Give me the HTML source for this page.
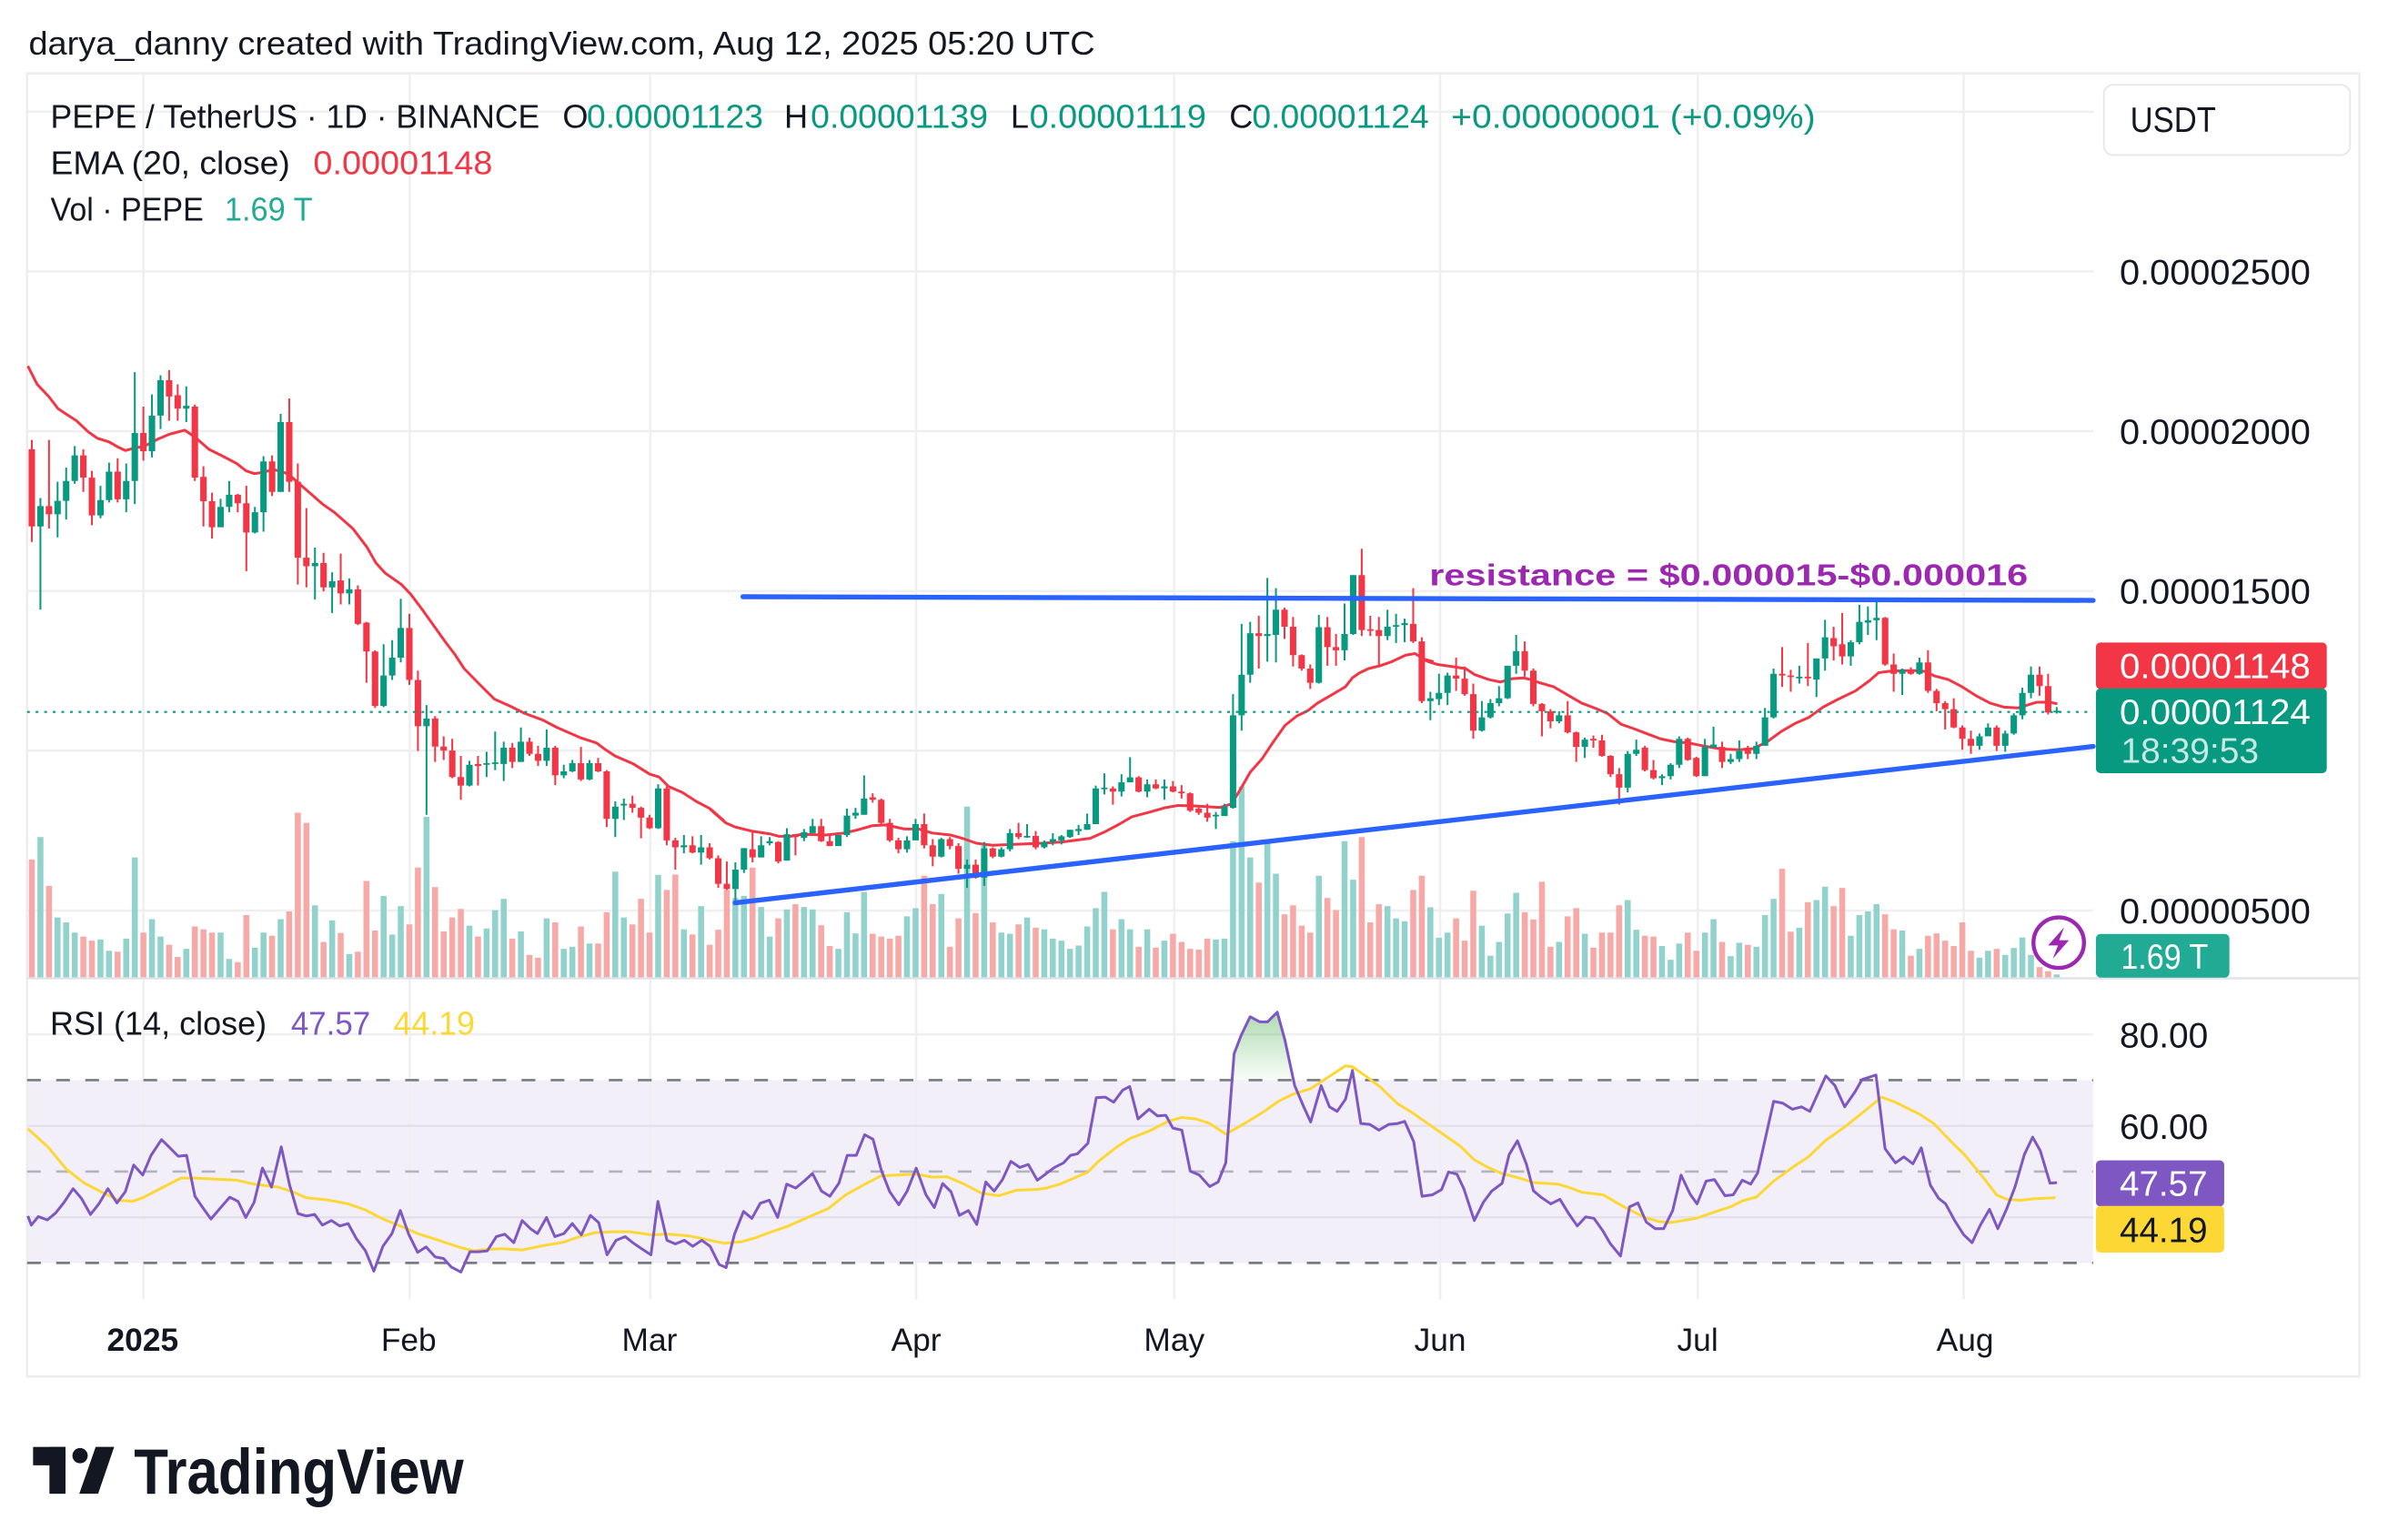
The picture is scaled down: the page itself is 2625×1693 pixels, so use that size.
<!DOCTYPE html>
<html><head><meta charset="utf-8">
<style>
html,body{margin:0;padding:0;background:#fff;overflow:hidden;}
svg{display:block;}
text{font-family:"Liberation Sans",sans-serif;}
</style></head>
<body>
<svg xmlns="http://www.w3.org/2000/svg" width="2625" height="1693" viewBox="0 0 1560 1006" preserveAspectRatio="none">
<defs>
<linearGradient id="ob" x1="0" y1="0" x2="0" y2="1">
<stop offset="0" stop-color="#4CAF50" stop-opacity="0.45"/>
<stop offset="1" stop-color="#4CAF50" stop-opacity="0.04"/>
</linearGradient>
</defs>
<rect width="1560" height="1006" fill="#fff"/>
<text x="18.7" y="35.7" font-size="21.5" fill="#131722" textLength="696.6" lengthAdjust="spacingAndGlyphs">darya_danny created with TradingView.com, Aug 12, 2025 05:20 UTC</text>

<rect x="17.7" y="705.6" width="1349.7" height="119.4" fill="#F2EFF9"/>
<g stroke="#EFEFEF" stroke-width="1.5">
<line x1="17.7" x2="1367.4" y1="73" y2="73"/>
<line x1="17.7" x2="1367.4" y1="177.3" y2="177.3"/>
<line x1="17.7" x2="1367.4" y1="281.7" y2="281.7"/>
<line x1="17.7" x2="1367.4" y1="386.1" y2="386.1"/>
<line x1="17.7" x2="1367.4" y1="490.4" y2="490.4"/>
<line x1="17.7" x2="1367.4" y1="594.8" y2="594.8"/>
<line x1="17.7" x2="1367.4" y1="675.7" y2="675.7"/>
<line x1="93.7" x2="93.7" y1="47.9" y2="848.8"/>
<line x1="267.7" x2="267.7" y1="47.9" y2="848.8"/>
<line x1="424.8" x2="424.8" y1="47.9" y2="848.8"/>
<line x1="598.5" x2="598.5" y1="47.9" y2="848.8"/>
<line x1="767.1" x2="767.1" y1="47.9" y2="848.8"/>
<line x1="940.8" x2="940.8" y1="47.9" y2="848.8"/>
<line x1="1109.1" x2="1109.1" y1="47.9" y2="848.8"/>
<line x1="1282.8" x2="1282.8" y1="47.9" y2="848.8"/>
</g>
<g stroke="#E4E0EC" stroke-width="1.5">
<line x1="17.7" x2="1367.4" y1="735.5" y2="735.5"/>
<line x1="17.7" x2="1367.4" y1="795.2" y2="795.2"/>
</g>
<rect x="17.7" y="47.9" width="1523.6" height="851.3" fill="none" stroke="#EDEDED" stroke-width="1.5"/>
<line x1="17.7" x2="1541.3" y1="639.1" y2="639.1" stroke="#E0E3EB" stroke-width="1.5"/>
<line x1="17.7" x2="1367.4" y1="705.6" y2="705.6" stroke="#787B86" stroke-width="1.6" stroke-dasharray="9 10"/>
<line x1="17.7" x2="1367.4" y1="765.3" y2="765.3" stroke="#B2B5BE" stroke-width="1.6" stroke-dasharray="9 10"/>
<line x1="17.7" x2="1367.4" y1="825" y2="825" stroke="#787B86" stroke-width="1.6" stroke-dasharray="9 10"/>

<!-- volume + candles (x = day index, y = reference zoom units) -->
<g transform="matrix(5.605 0 0 0.2653 20.8 225.83)" fill="none">
<path stroke="#92D2CC" stroke-width="0.696" d="M1 1210V1555M3 1408V1555M4 1420V1555M5 1445V1555M8 1462V1555M9 1490V1555M11 1460V1555M12 1260V1555M14 1412V1555M15 1455V1555M18 1485V1555M22 1445V1555M23 1510V1555M26 1482V1555M27 1445V1555M29 1412V1555M33 1378V1555M35 1415V1555M37 1498V1555M41 1355V1555M42 1450V1555M43 1380V1555M46 1160V1555M51 1428V1555M53 1435V1555M54 1390V1555M55 1362V1555M57 1442V1555M60 1410V1555M62 1485V1555M63 1480V1555M65 1472V1555M68 1295V1555M69 1408V1555M73 1303V1555M76 1437V1555M78 1380V1555M82 1360V1555M83 1355V1555M85 1382V1555M86 1455V1555M88 1388V1555M90 1382V1555M91 1388V1555M94 1485V1555M95 1395V1555M96 1447V1555M97 1345V1555M102 1405V1555M103 1385V1555M106 1350V1555M109 1135V1555M111 1230V1555M113 1445V1555M114 1448V1555M116 1408V1555M118 1437V1555M119 1460V1555M120 1465V1555M121 1485V1555M122 1477V1555M123 1430V1555M124 1385V1555M125 1345V1555M127 1412V1555M128 1437V1555M130 1437V1555M132 1465V1555M138 1462V1555M139 1460V1555M140 1220V1555M141 1085V1555M142 1260V1555M144 1225V1555M145 1300V1555M150 1305V1555M153 1220V1555M154 1315V1555M158 1380V1555M159 1410V1555M160 1417V1555M163 1383V1555M164 1458V1555M165 1445V1555M169 1428V1555M170 1502V1555M171 1468V1555M172 1398V1555M173 1347V1555M178 1468V1555M181 1448V1555M186 1365V1555M187 1438V1555M190 1478V1555M191 1512V1555M192 1472V1555M195 1445V1555M196 1412V1555M198 1503V1555M199 1470V1555M201 1480V1555M202 1402V1555M203 1362V1555M206 1433V1555M208 1365V1555M209 1332V1555M212 1453V1555M213 1402V1555M214 1393V1555M215 1375V1555M218 1440V1555M220 1485V1555M227 1507V1555M228 1490V1555M230 1500V1555M231 1483V1555M232 1457V1555M233 1500V1555M236 1548V1555"/>
<path stroke="#F7A9A7" stroke-width="0.696" d="M0 1265V1555M2 1330V1555M6 1455V1555M7 1465V1555M10 1492V1555M13 1445V1555M16 1475V1555M17 1505V1555M19 1430V1555M20 1437V1555M21 1445V1555M24 1518V1555M25 1402V1555M28 1453V1555M30 1393V1555M31 1150V1555M32 1175V1555M34 1468V1555M36 1446V1555M38 1492V1555M39 1318V1555M40 1440V1555M44 1425V1555M45 1285V1555M47 1333V1555M48 1442V1555M49 1408V1555M50 1387V1555M52 1455V1555M56 1460V1555M58 1500V1555M59 1507V1555M61 1420V1555M64 1430V1555M66 1472V1555M67 1395V1555M70 1425V1555M71 1362V1555M72 1445V1555M74 1340V1555M75 1302V1555M77 1450V1555M79 1475V1555M80 1438V1555M81 1340V1555M84 1285V1555M87 1410V1555M89 1375V1555M92 1427V1555M93 1478V1555M98 1448V1555M99 1455V1555M100 1460V1555M101 1453V1555M104 1305V1555M105 1375V1555M107 1480V1555M108 1410V1555M110 1397V1555M112 1420V1555M115 1425V1555M117 1433V1555M126 1437V1555M129 1480V1555M131 1482V1555M133 1448V1555M134 1468V1555M135 1485V1555M136 1487V1555M137 1460V1555M143 1322V1555M146 1400V1555M147 1378V1555M148 1428V1555M149 1445V1555M151 1360V1555M152 1390V1555M155 1210V1555M156 1420V1555M157 1375V1555M161 1340V1555M162 1305V1555M166 1410V1555M167 1465V1555M168 1342V1555M174 1395V1555M175 1413V1555M176 1320V1555M177 1480V1555M179 1405V1555M180 1385V1555M182 1482V1555M183 1445V1555M184 1445V1555M185 1378V1555M188 1453V1555M189 1455V1555M193 1445V1555M194 1490V1555M197 1468V1555M200 1475V1555M204 1288V1555M205 1443V1555M207 1370V1555M210 1380V1555M211 1335V1555M216 1400V1555M217 1437V1555M219 1502V1555M221 1453V1555M222 1447V1555M223 1465V1555M224 1478V1555M225 1420V1555M226 1490V1555M229 1485V1555M234 1530V1555M235 1540V1555"/>
</g>

<!-- EMA -->
<g fill="none" stroke="#F23645" stroke-width="3" stroke-linejoin="round" vector-effect="non-scaling-stroke">
<polyline vector-effect="non-scaling-stroke" transform="matrix(0.3032 0 0 0.2653 0 225.83)" points="60,50 80,95 105,125 125,155 145,170 165,185 190,212 210,228 235,237 255,250 270,258 290,252 310,248 340,230 365,218 398,208 420,225 450,255 480,272 510,290 530,308 548,315 565,312 590,305 620,315 640,335 670,365 695,390 720,410 740,430 760,450 790,495 810,535 830,560 865,588 885,612 910,650 935,690 960,730 980,760 1000,795 1030,830 1065,870 1100,888 1130,905 1170,922 1200,940 1250,965 1285,978 1305,995 1325,1010 1365,1030 1400,1055 1420,1062 1440,1085 1470,1100 1500,1122 1530,1140 1560,1170"/>
<polyline vector-effect="non-scaling-stroke" transform="matrix(0.3032 0 0 0.2653 463.5 225.83)" points="0,1140 20,1160 35,1175 55,1185 90,1195 130,1202 150,1208 175,1208 200,1203 250,1205 290,1200 320,1192 350,1182 380,1180 420,1190 450,1190 480,1200 520,1205 545,1213 575,1225 610,1230 650,1228 700,1226 760,1222 820,1213 850,1198 880,1180 910,1160 950,1148 980,1138 1010,1132 1040,1133 1070,1135 1100,1137 1125,1128 1145,1090 1165,1050 1190,1018 1215,975 1240,935 1265,912 1290,898 1310,880 1340,860 1370,840 1385,818 1400,806 1420,795 1445,788 1470,778 1500,762 1520,758 1540,772 1560,778"/>
<polyline vector-effect="non-scaling-stroke" transform="matrix(0.3032 0 0 0.2653 927.1 225.83)" points="0,768 20,778 40,785 70,790 100,795 120,810 150,822 175,828 200,820 225,818 240,822 260,830 290,840 320,860 350,880 380,893 405,905 435,932 460,942 490,955 520,968 550,975 580,978 610,985 650,993 690,995 720,992 750,975 780,950 810,930 840,915 870,890 900,872 940,850 970,825 990,805 1010,802 1040,800 1070,800 1090,802 1110,813 1140,822 1170,840 1200,862 1230,880 1260,890 1290,892 1310,885 1330,878 1360,878 1375,882"/>
</g>

<g transform="matrix(5.605 0 0 0.2653 20.8 225.83)" fill="none">
<path stroke="#089981" stroke-width="0.214" d="M1 375V650M3 335V472M4 300V428M5 247V340M8 345V425M9 288V386M11 290V410M12 65V390M14 120V275M15 73V205M18 100V188M22 377V447M23 333V410M26 397V462M27 272V458M29 168V360M33 497V625M35 558V658M37 573V637M41 735V890M42 725V823M43 623V780M46 885V1155M51 1022V1085M53 1000V1062M54 950V1045M55 975V1072M57 940V1025M60 945V1035M62 1032V1065M63 1020V1050M65 1020V1070M68 1122V1210M69 1115V1168M73 1080V1190M76 1205V1250M78 1205V1278M82 1272V1370M83 1237V1298M85 1208V1260M86 1210V1230M88 1188V1268M90 1190V1220M91 1165V1200M94 1205V1232M95 1140V1210M96 1138V1165M97 1058V1155M102 1208V1248M103 1165V1218M106 1212V1260M109 1265V1335M111 1222V1330M113 1235V1260M114 1190V1245M116 1178V1212M118 1218V1238M119 1200V1230M120 1205V1228M121 1192V1212M122 1180V1205M123 1152V1192M124 1083V1178M125 1053V1105M127 1055V1110M128 1013V1075M130 1068V1112M132 1068V1118M138 1148V1190M139 1128V1158M140 858V1140M141 685V948M142 680V830M144 572V778M145 597V780M150 663V832M153 635V775M154 565V712M158 650V725M159 660V732M160 672V730M163 852V922M164 808V885M165 805V885M169 875V950M170 870V918M171 838V888M172 788V870M173 712V808M178 900V930M181 965V1015M186 998V1100M187 970V1010M190 1055V1082M191 1028V1068M192 962V1040M195 968V1060M196 938V990M198 1005V1030M199 972V1025M201 975V1018M202 892V985M203 795V918M206 788V832M208 770V865M209 675V800M212 725V788M213 638V735M214 642V712M215 628V725M218 795V860M220 768V810M227 955V995M228 930V962M230 948V1000M231 905V958M232 842V920M233 790V868M236 890V906"/>
<path stroke="#089981" stroke-width="0.75" d="M1 395V445M3 382V415M4 333V382M5 270V333M8 380V418M9 310V380M11 333V378M12 215V333M14 172V260M15 85V172M18 148V155M22 397V447M23 367V397M26 410V460M27 285V410M29 188V360M33 535V543M35 580V595M37 600V610M41 812V887M42 768V812M43 695V768M46 918V937M51 1032V1083M53 1028V1032M54 1026V1030M55 990V1030M57 975V1025M60 990V1022M62 1048V1058M63 1028V1048M65 1028V1068M68 1135V1165M69 1128V1132M73 1090V1188M76 1230V1235M78 1235V1248M82 1290V1338M83 1237V1290M85 1230V1260M86 1220V1225M88 1203V1268M90 1198V1212M91 1183V1200M94 1205V1232M95 1157V1205M96 1150V1157M97 1115V1155M102 1218V1240M103 1178V1218M106 1215V1258M109 1278V1288M111 1238V1310M113 1240V1258M114 1200V1240M116 1207V1211M118 1222V1235M119 1215V1222M120 1208V1218M121 1192V1210M122 1190V1195M123 1178V1192M124 1090V1178M125 1088V1092M127 1075V1098M128 1063V1075M130 1080V1098M132 1085V1090M138 1155V1159M139 1135V1158M140 910V1138M141 810V910M142 708V810M144 710V715M145 650V712M150 693V830M153 710V750M154 565V710M158 692V715M159 688V692M160 683V688M163 868V875M164 855V870M165 812V855M169 915V948M170 880V915M171 868V880M172 788V868M173 752V788M178 910V925M181 970V988M186 1005V1088M187 995V1005M190 1060V1065M191 1032V1060M192 968V1032M195 988V1060M196 982V990M198 1018V1025M199 998V1018M201 985V1005M202 915V985M203 808V915M206 815V819M208 770V822M209 718V770M212 730V765M213 680V730M214 676V682M215 670V676M218 798V808M220 780V808M227 962V985M228 940V962M230 955V985M231 910V955M232 855V910M233 810V855M236 899V903"/>
<path stroke="#F23645" stroke-width="0.214" d="M0 232V483M2 232V450M6 255V360M7 308V442M10 277V386M13 150V283M16 60V185M17 95V185M19 145V333M20 297V445M21 362V475M24 365V410M25 345V555M28 270V370M30 130V360M31 290V588M32 400V595M34 510V605M36 512V637M38 590V688M39 680V830M40 750V892M44 660V835M45 800V998M47 912V1025M48 962V1020M49 968V1065M50 1010V1118M52 1010V1083M56 978V1040M58 965V1010M59 985V1035M61 985V1082M64 988V1072M66 1015V1050M67 1045V1185M70 1108V1150M71 1135V1213M72 1155V1190M74 1085V1230M75 1212V1290M77 1208V1250M79 1225V1265M80 1255V1335M81 1270V1340M84 1198V1272M87 1220V1275M89 1203V1255M92 1165V1222M93 1205V1232M98 1102V1125M99 1115V1180M100 1165V1222M101 1212V1250M104 1152V1238M105 1215V1282M107 1210V1240M108 1225V1300M110 1265V1312M112 1235V1262M115 1175V1215M117 1195V1240M126 1085V1130M129 1060V1100M131 1068V1092M133 1072V1100M134 1082V1115M135 1100V1148M136 1132V1155M137 1128V1172M143 665V795M146 645V722M147 668V790M148 760V800M149 785V845M151 668V788M152 710V788M155 500V715M156 665V715M157 668V790M161 597V732M162 718V880M166 768V850M167 790V862M168 832V968M174 728V815M175 795V888M176 880V962M177 895V942M179 875V955M180 950V1025M182 960V990M183 958V1012M184 1008V1062M185 1040V1130M188 985V1048M189 1020V1068M193 965V1022M194 1012V1062M197 975V1040M200 985V1018M204 742V840M205 798V852M207 732V838M210 692V775M211 658V785M216 668V788M217 758V852M219 792V810M221 750V855M222 845V900M223 875V945M224 868V942M225 935V995M226 948V1005M229 935V998M234 790V862M235 808V908"/>
<path stroke="#F23645" stroke-width="0.75" d="M0 255V445M2 395V415M6 270V325M7 325V418M10 310V378M13 215V260M16 85V125M17 122V155M19 150V325M20 323V383M21 383V447M24 367V388M25 388V460M28 285V360M30 188V335M31 335V522M32 522V543M34 535V595M36 578V610M38 600V685M39 682V753M40 753V887M44 695V823M45 823V937M47 918V987M48 987V997M49 997V1062M50 1062V1083M52 1030V1035M56 990V1025M58 975V1005M59 1005V1022M61 990V1058M64 1028V1068M66 1028V1048M67 1048V1165M70 1128V1138M71 1138V1162M72 1162V1188M74 1090V1218M75 1218V1235M77 1230V1248M79 1235V1262M80 1262V1325M81 1325V1338M84 1240V1260M87 1222V1270M89 1203V1210M92 1183V1220M93 1220V1232M98 1112V1118M99 1118V1175M100 1175V1218M101 1218V1240M104 1178V1230M105 1230V1258M107 1215V1232M108 1232V1288M110 1278V1310M112 1238V1258M115 1200V1210M117 1207V1235M126 1090V1098M129 1063V1098M131 1080V1090M133 1085V1098M134 1098V1102M135 1102V1145M136 1140V1150M137 1150V1162M143 708V715M146 650V692M147 692V762M148 762V795M149 795V830M151 693V742M152 742V750M155 565V700M156 698V702M157 700V715M161 685V728M162 728V875M166 812V820M167 820V858M168 858V948M174 752V800M175 800V882M176 882V900M177 900V925M179 910V952M180 952V988M182 968V972M183 972V1010M184 1010V1055M185 1055V1088M188 990V1045M189 1045V1065M193 968V1020M194 1015V1060M197 988V1025M200 990V1005M204 808V812M205 812V816M207 815V819M210 720V740M211 735V765M216 670V785M217 785V808M219 798V808M221 780V850M222 850V880M223 880V895M224 895V940M225 940V968M226 968V985M229 940V985M234 810V838M235 838V903"/>
</g>

<line x1="17.7" x2="1367.4" y1="465.1" y2="465.1" stroke="#089981" stroke-width="1.3" stroke-dasharray="1.8 3.8"/>
<line x1="480.2" y1="589.8" x2="1367.4" y2="487.6" stroke="#2962FF" stroke-width="3.2" stroke-linecap="round"/>
<line x1="485.3" y1="389.8" x2="1367.4" y2="392.2" stroke="#2962FF" stroke-width="3.2" stroke-linecap="round"/>
<text x="933.8" y="382.3" font-size="20" font-weight="bold" fill="#9C27B0" textLength="391" lengthAdjust="spacingAndGlyphs">resistance = $0.000015-$0.000016</text>

<!-- RSI -->
<polygon transform="matrix(0.4548 0 0 0.1981 683.4 641.8)" points="267.1,322 270,235 280,175 293,113 307,130 318,130 332,98 343,190 355.3,322" fill="url(#ob)"/>
<g fill="none" stroke-linejoin="round">
<polyline vector-effect="non-scaling-stroke" stroke="#FDD835" stroke-width="3" transform="matrix(0.4548 0 0 0.1981 0 641.8)" points="40,482 70,545 95,615 120,660 145,690 170,718 190,722 205,710 230,680 260,645 280,645 340,652 365,665 400,675 420,690 440,710 470,717 500,730 525,750 550,780 575,803 600,828 630,850 660,873 680,885 700,880 720,878 750,882 780,868 810,856 830,840 855,825 880,822 905,822 935,832 960,830 990,836 1010,845 1040,860 1065,855 1085,842 1105,825 1130,805 1160,775 1190,745 1215,700 1240,668 1265,638 1290,635 1315,632 1340,642 1360,640 1385,665 1410,695 1435,703 1460,685 1490,682 1503,678"/>
<polyline vector-effect="non-scaling-stroke" stroke="#FDD835" stroke-width="3" transform="matrix(0.4548 0 0 0.1981 683.4 641.8)" points="0,678 20,665 40,645 60,625 75,590 100,545 120,515 148,490 175,458 195,445 215,450 235,465 258,500 285,465 310,430 335,390 355,368 380,350 400,320 430,275 440,278 460,310 480,345 505,400 525,428 545,460 570,500 595,540 615,585 635,610 655,630 680,645 700,660 735,665 750,675 770,692 800,700 830,740 860,775 880,788 895,792 910,787 935,777 960,757 985,738 1000,720 1020,708 1045,655 1075,605 1095,575 1120,520 1145,480 1175,425 1200,378 1220,395 1255,435 1275,465 1300,525 1320,570 1345,640 1365,700 1380,715 1400,718 1420,713 1450,710"/>
<polyline vector-effect="non-scaling-stroke" stroke="#7E57C2" stroke-width="3" transform="matrix(0.4548 0 0 0.1981 0 641.8)" points="40,770 45,800 55,772 68,783 80,760 92,725 105,680 117,712 130,765 142,730 155,680 168,727 180,690 192,602 205,635 217,570 232,518 244,545 256,573 268,570 280,705 292,745 303,780 316,745 330,708 342,722 353,775 365,725 377,612 390,675 404,542 416,668 428,762 440,770 452,765 463,800 476,785 488,803 500,795 512,845 525,885 537,952 550,870 563,828 575,752 587,830 600,890 612,872 625,905 637,910 648,938 662,955 675,888 688,888 700,885 713,838 725,830 738,858 750,785 762,812 772,828 785,775 797,838 810,828 822,795 835,832 848,768 860,792 872,898 885,850 898,838 910,860 923,880 935,898 945,722 958,850 970,862 983,850 995,870 1008,850 1020,870 1033,930 1043,940 1055,830 1068,755 1080,778 1092,728 1105,718 1117,775 1130,665 1143,678 1155,655 1167,630 1180,688 1192,705 1205,662 1217,570 1230,570 1242,502 1254,517 1266,620 1278,690 1291,733 1303,688 1316,612 1330,700 1342,742 1354,663 1366,690 1378,768 1391,752 1403,798 1416,658 1428,688 1440,650 1452,590 1465,610 1477,600 1490,652 1503,630"/>
<polyline vector-effect="non-scaling-stroke" stroke="#7E57C2" stroke-width="3" transform="matrix(0.4548 0 0 0.1981 683.4 641.8)" points="0,630 12,610 25,595 35,570 45,565 60,530 72,380 85,378 97,395 110,355 120,343 132,450 148,418 160,440 172,438 182,480 195,487 207,622 220,635 235,673 247,658 258,595 270,235 280,175 293,113 307,130 318,130 332,98 343,190 357,340 370,410 380,460 395,340 407,410 418,425 430,385 440,290 452,465 465,468 478,487 492,468 505,465 515,458 528,525 540,705 555,700 568,683 578,625 590,632 600,680 615,785 628,725 640,688 655,662 665,568 677,522 690,600 700,687 712,710 725,730 738,715 750,760 763,803 775,773 787,778 800,820 810,860 825,902 838,740 850,727 862,790 875,812 887,812 900,752 912,635 925,698 935,730 948,655 960,650 975,703 987,700 1000,652 1012,665 1022,628 1045,392 1058,398 1072,418 1085,410 1097,425 1120,308 1133,340 1147,410 1162,360 1172,320 1192,305 1205,548 1220,595 1232,575 1245,598 1257,545 1270,668 1282,712 1292,730 1305,785 1318,832 1330,858 1342,800 1355,748 1367,812 1380,745 1392,672 1405,568 1417,510 1428,555 1442,662 1452,660"/>
</g>

<circle cx="1344.9" cy="615.8" r="16.5" fill="#fff" fill-opacity="0.85" stroke="#9C27B0" stroke-width="2.6"/>
<path d="M1348.4,605.8 L1337.9,617.6 L1344.4,617.6 L1341.0,626.3 L1351.6,614.2 L1345.2,614.2 Z" fill="#9C27B0"/>

<!-- legend -->
<g font-size="21.5" fill="#131722">
<text x="33" y="83.6" textLength="319.5" lengthAdjust="spacingAndGlyphs">PEPE / TetherUS · 1D · BINANCE</text>
<text x="367.5" y="83.6">O</text>
<text x="383.3" y="83.6" fill="#089981" textLength="115.3" lengthAdjust="spacingAndGlyphs">0.00001123</text>
<text x="512.3" y="83.6">H</text>
<text x="529.6" y="83.6" fill="#089981" textLength="115.8" lengthAdjust="spacingAndGlyphs">0.00001139</text>
<text x="660.2" y="83.6">L</text>
<text x="672.5" y="83.6" fill="#089981" textLength="115.5" lengthAdjust="spacingAndGlyphs">0.00001119</text>
<text x="803" y="83.6">C</text>
<text x="818" y="83.6" fill="#089981" textLength="115.5" lengthAdjust="spacingAndGlyphs">0.00001124</text>
<text x="948" y="83.6" fill="#089981" textLength="238" lengthAdjust="spacingAndGlyphs">+0.00000001 (+0.09%)</text>
<text x="33" y="113.9" textLength="156.5" lengthAdjust="spacingAndGlyphs">EMA (20, close)</text>
<text x="204.7" y="113.9" fill="#F23645" textLength="117.1" lengthAdjust="spacingAndGlyphs">0.00001148</text>
<text x="33" y="144.2" textLength="100" lengthAdjust="spacingAndGlyphs">Vol · PEPE</text>
<text x="146.7" y="144.2" fill="#22AB94" textLength="57.5" lengthAdjust="spacingAndGlyphs">1.69 T</text>
<text x="32.7" y="675.9" textLength="141.5" lengthAdjust="spacingAndGlyphs">RSI (14, close)</text>
<text x="190.1" y="675.9" fill="#7E57C2" textLength="51.9" lengthAdjust="spacingAndGlyphs">47.57</text>
<text x="257" y="675.9" fill="#FDD835" textLength="53.2" lengthAdjust="spacingAndGlyphs">44.19</text>
</g>

<!-- right axis -->
<rect x="1374.4" y="55.4" width="160.8" height="45.9" rx="6" fill="#fff" stroke="#E6E8EE" stroke-width="1.2"/>
<text x="1391.6" y="86.2" font-size="23" fill="#131722" textLength="56" lengthAdjust="spacingAndGlyphs">USDT</text>
<g font-size="23.3" fill="#131722">
<text x="1384.7" y="185.6" textLength="124.7" lengthAdjust="spacingAndGlyphs">0.00002500</text>
<text x="1384.7" y="290" textLength="124.7" lengthAdjust="spacingAndGlyphs">0.00002000</text>
<text x="1384.7" y="394.4" textLength="124.7" lengthAdjust="spacingAndGlyphs">0.00001500</text>
<text x="1384.7" y="603.1" textLength="124.7" lengthAdjust="spacingAndGlyphs">0.00000500</text>
<text x="1384.7" y="684.2" textLength="57.8" lengthAdjust="spacingAndGlyphs">80.00</text>
<text x="1384.7" y="743.9" textLength="57.8" lengthAdjust="spacingAndGlyphs">60.00</text>
</g>
<rect x="1369.2" y="419.7" width="150.8" height="30.5" rx="3" fill="#F23645"/>
<rect x="1369.2" y="449.7" width="150.8" height="55.4" rx="3" fill="#089981"/>
<rect x="1369.2" y="610.1" width="87.2" height="28.5" rx="3" fill="#22AB94"/>
<rect x="1369.2" y="758" width="83.8" height="30.2" rx="3" fill="#7E57C2"/>
<rect x="1369.2" y="787.8" width="83.8" height="30.4" rx="3" fill="#FDD835"/>
<g font-size="23.3" fill="#fff">
<text x="1384.7" y="442.9" textLength="124.7" lengthAdjust="spacingAndGlyphs">0.00001148</text>
<text x="1384.7" y="473.1" textLength="124.7" lengthAdjust="spacingAndGlyphs">0.00001124</text>
<text x="1385.6" y="498.2" fill-opacity="0.78" textLength="90" lengthAdjust="spacingAndGlyphs">18:39:53</text>
<text x="1385.5" y="632.8" textLength="57" lengthAdjust="spacingAndGlyphs">1.69 T</text>
<text x="1384.7" y="781.2" textLength="57.4" lengthAdjust="spacingAndGlyphs">47.57</text>
<text x="1384.7" y="811.4" fill="#131722" textLength="57.4" lengthAdjust="spacingAndGlyphs">44.19</text>
</g>

<!-- time axis -->
<g font-size="21" fill="#131722" text-anchor="middle">
<text x="93.2" y="882.5" font-weight="bold">2025</text>
<text x="267" y="882.5">Feb</text>
<text x="424.3" y="882.5">Mar</text>
<text x="598.5" y="882.5">Apr</text>
<text x="767.1" y="882.5">May</text>
<text x="940.8" y="882.5">Jun</text>
<text x="1109" y="882.5">Jul</text>
<text x="1283.7" y="882.5">Aug</text>
</g>

<!-- logo -->
<g fill="#131722">
<rect x="21.6" y="945.2" width="21.2" height="12"/>
<rect x="32.3" y="945.2" width="10.5" height="30.6"/>
<circle cx="52.3" cy="950.9" r="5"/>
<polygon points="62.5,945.2 74.6,945.2 64.1,975.8 51.8,975.8"/>
<text x="87.5" y="975.8" font-size="42" font-weight="bold" textLength="215.4" lengthAdjust="spacingAndGlyphs">TradingView</text>
</g>
</svg>
</body></html>
